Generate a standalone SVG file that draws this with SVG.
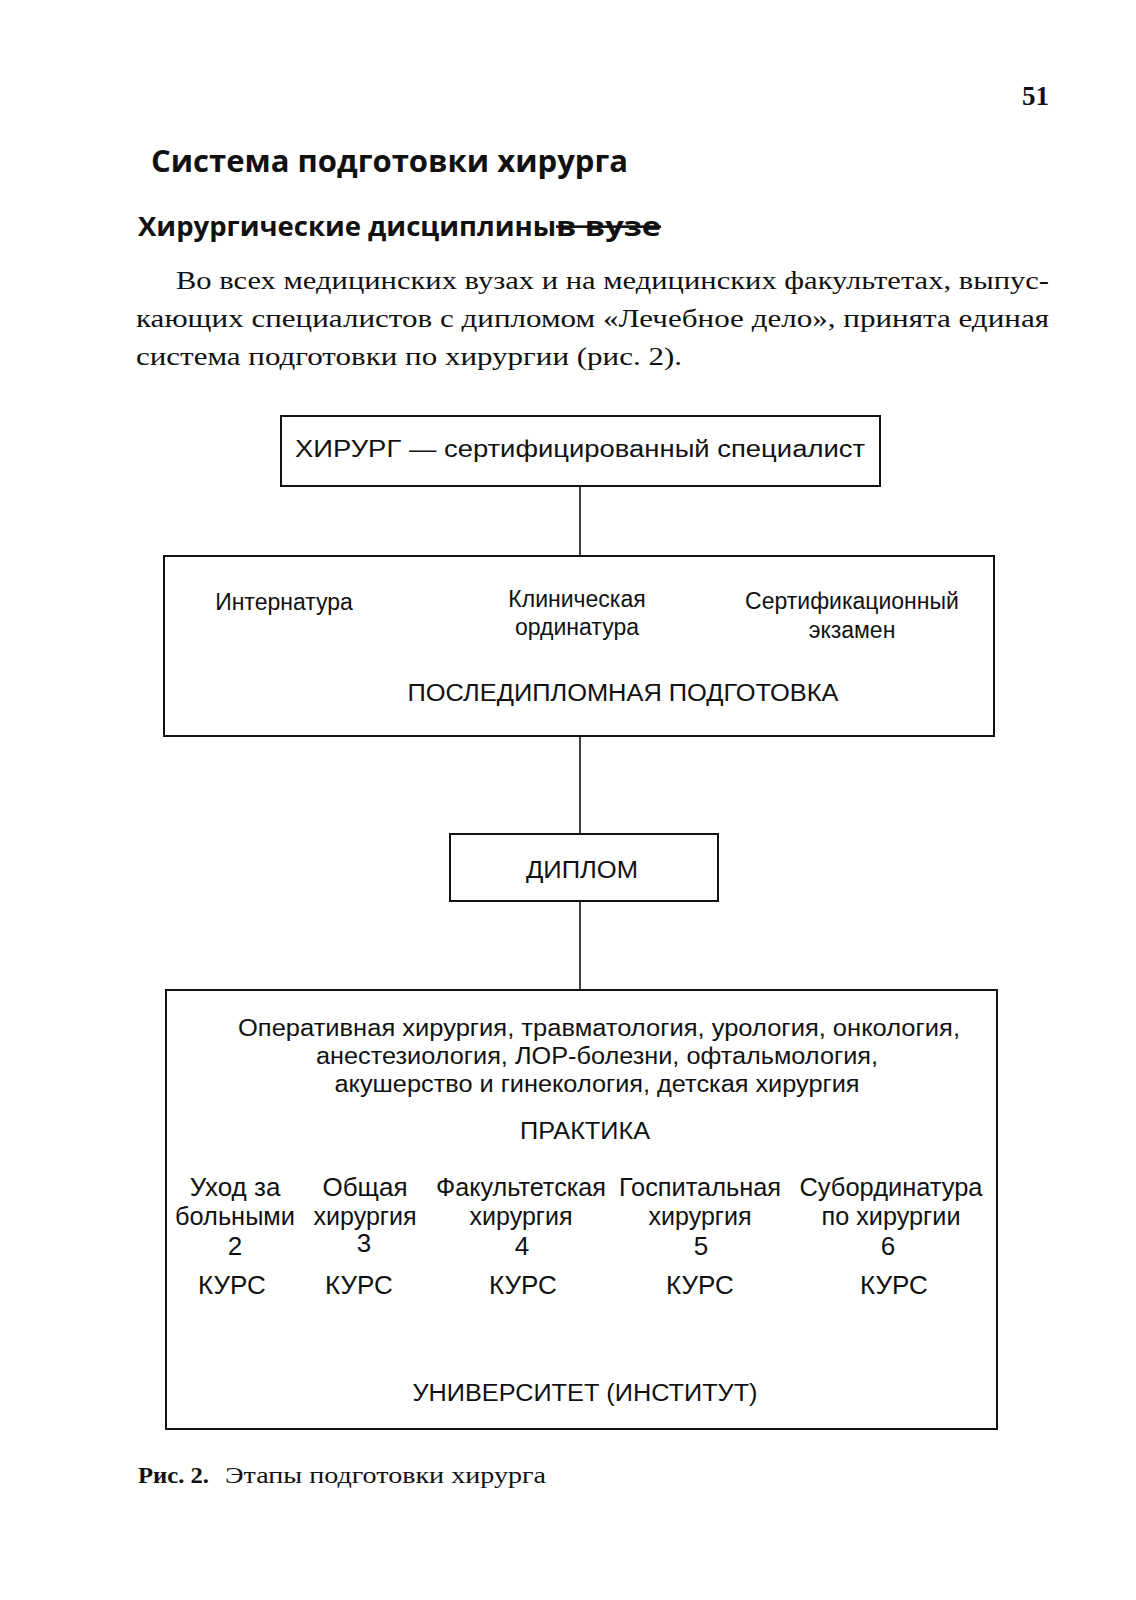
<svg xmlns="http://www.w3.org/2000/svg" width="1136" height="1600" viewBox="0 0 1136 1600">
<style>
.box{fill:#fff;stroke:#111;stroke-width:2}
.con{stroke:#111;stroke-width:1.6;fill:none}
.t{font-family:"Liberation Sans",Arial,sans-serif;font-size:23px;fill:#111;text-anchor:middle}
.c{font-size:26px}
.s{font-family:"Liberation Serif","Times New Roman",serif;fill:#111}
.h{font-family:"Open Sans","Liberation Sans",sans-serif;font-weight:bold;fill:#111}
</style>
<rect width="1136" height="1600" fill="#fff"/>
<text class="s" x="1049" y="105" font-size="27" font-weight="bold" text-anchor="end">51</text>
<text class="h" x="151" y="172" font-size="30" textLength="477" lengthAdjust="spacingAndGlyphs">Система подготовки хирурга</text>
<text class="h" x="138" y="236" font-size="26"><tspan textLength="418" lengthAdjust="spacingAndGlyphs">Хирургические дисциплины</tspan><tspan text-decoration="line-through" textLength="105" lengthAdjust="spacingAndGlyphs">в вузе</tspan></text>
<text class="s" x="176" y="289" font-size="25" textLength="873" lengthAdjust="spacingAndGlyphs">Во всех медицинских вузах и на медицинских факультетах, выпус-</text>
<text class="s" x="136" y="327" font-size="25" textLength="913" lengthAdjust="spacingAndGlyphs">кающих специалистов с дипломом «Лечебное дело», принята единая</text>
<text class="s" x="136" y="365" font-size="25" textLength="546" lengthAdjust="spacingAndGlyphs">система подготовки по хирургии (рис. 2).</text>

<g id="connectors">
<line class="con" x1="580" y1="486" x2="580" y2="556"/>
<line class="con" x1="580" y1="736" x2="580" y2="834"/>
<line class="con" x1="580" y1="901" x2="580" y2="990"/>
</g>

<g id="surgeon">
<rect class="box" x="281" y="416" width="599" height="70"/>
<text class="t" x="580" y="457" textLength="570" lengthAdjust="spacingAndGlyphs">ХИРУРГ — сертифицированный специалист</text>
</g>

<g id="postgrad">
<rect class="box" x="164" y="556" width="830" height="180"/>
<text class="t" x="284" y="610" font-size="25">Интернатура</text>
<text class="t" x="577" y="607" font-size="25">Клиническая</text>
<text class="t" x="577" y="635" font-size="25">ординатура</text>
<text class="t" x="852" y="609" font-size="25">Сертификационный</text>
<text class="t" x="852" y="638" font-size="25">экзамен</text>
<text class="t" x="623" y="701" font-size="24" textLength="431" lengthAdjust="spacingAndGlyphs">ПОСЛЕДИПЛОМНАЯ ПОДГОТОВКА</text>
</g>

<g id="diploma">
<rect class="box" x="450" y="834" width="268" height="67"/>
<text class="t" x="582" y="878" font-size="26" textLength="112" lengthAdjust="spacingAndGlyphs">ДИПЛОМ</text>
</g>

<g id="university">
<rect class="box" x="166" y="990" width="831" height="439"/>
<text class="t" x="599" y="1036" textLength="722" lengthAdjust="spacingAndGlyphs">Оперативная хирургия, травматология, урология, онкология,</text>
<text class="t" x="597" y="1064" textLength="562" lengthAdjust="spacingAndGlyphs">анестезиология, ЛОР-болезни, офтальмология,</text>
<text class="t" x="597" y="1092" textLength="525" lengthAdjust="spacingAndGlyphs">акушерство и гинекология, детская хирургия</text>
<text class="t" x="585" y="1139" font-size="25" textLength="130" lengthAdjust="spacingAndGlyphs">ПРАКТИКА</text>
<text class="t c" x="235" y="1196">Уход за</text>
<text class="t c" x="235" y="1225" textLength="120" lengthAdjust="spacingAndGlyphs">больными</text>
<text class="t c" x="235" y="1255">2</text>
<text class="t c" x="232" y="1294">КУРС</text>
<text class="t c" x="365" y="1196">Общая</text>
<text class="t c" x="365" y="1225" textLength="103" lengthAdjust="spacingAndGlyphs">хирургия</text>
<text class="t c" x="364" y="1252">3</text>
<text class="t c" x="359" y="1294">КУРС</text>
<text class="t c" x="521" y="1196" textLength="170" lengthAdjust="spacingAndGlyphs">Факультетская</text>
<text class="t c" x="521" y="1225" textLength="103" lengthAdjust="spacingAndGlyphs">хирургия</text>
<text class="t c" x="522" y="1255">4</text>
<text class="t c" x="523" y="1294">КУРС</text>
<text class="t c" x="700" y="1196" textLength="162" lengthAdjust="spacingAndGlyphs">Госпитальная</text>
<text class="t c" x="700" y="1225" textLength="103" lengthAdjust="spacingAndGlyphs">хирургия</text>
<text class="t c" x="701" y="1255">5</text>
<text class="t c" x="700" y="1294">КУРС</text>
<text class="t c" x="891" y="1196" textLength="183" lengthAdjust="spacingAndGlyphs">Субординатура</text>
<text class="t c" x="891" y="1225" textLength="139" lengthAdjust="spacingAndGlyphs">по хирургии</text>
<text class="t c" x="888" y="1255">6</text>
<text class="t c" x="894" y="1294">КУРС</text>
<text class="t" x="585" y="1401" font-size="25" textLength="345" lengthAdjust="spacingAndGlyphs">УНИВЕРСИТЕТ (ИНСТИТУТ)</text>
</g>

<text class="s" y="1483" font-size="23"><tspan x="138" font-weight="bold" textLength="71" lengthAdjust="spacingAndGlyphs">Рис. 2.</tspan><tspan x="225" textLength="321" lengthAdjust="spacingAndGlyphs">Этапы подготовки хирурга</tspan></text>
</svg>
